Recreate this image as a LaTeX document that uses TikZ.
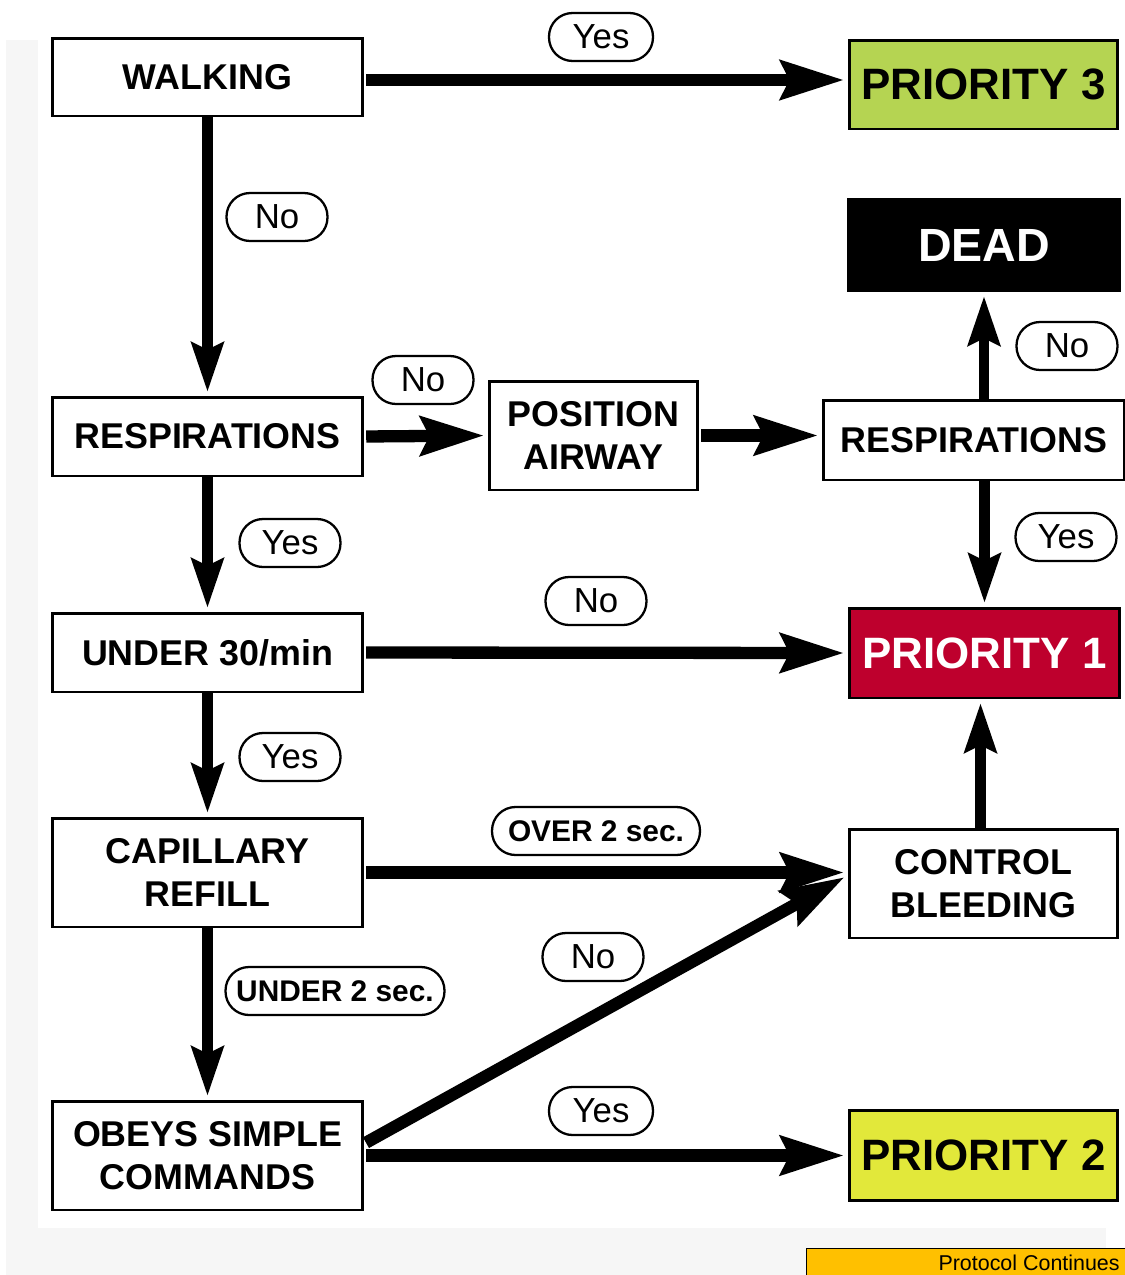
\documentclass[tikz,border=0pt]{standalone}
\usepackage{fontspec}
\setmainfont{Liberation Sans}
\usetikzlibrary{arrows.meta,calc}
\definecolor{pthree}{RGB}{181,212,82}
\definecolor{pone}{RGB}{190,0,45}
\definecolor{ptwo}{RGB}{226,232,58}
\definecolor{protobg}{RGB}{255,192,0}
\definecolor{framebg}{RGB}{246,246,246}
\begin{document}
\begin{tikzpicture}[x=0.02cm,y=-0.02cm,
  box/.style={draw=black,line width=1.7pt,fill=white,inner sep=0pt,align=center,
    font=\bfseries\fontsize{20.4}{24.4}\selectfont},
  prio/.style={box,font=\bfseries\fontsize{25}{30}\selectfont},
  pill/.style={draw=black,line width=1.3pt,fill=white,inner sep=0pt,rounded corners=0.47cm,
    minimum height=0.96cm,minimum width=2.02cm,font=\fontsize{19.8}{22}\selectfont},
  bpill/.style={pill,font=\bfseries\fontsize{17}{20}\selectfont},
  harrow/.style={line width=7pt,-{Stealth[length=36pt,width=22pt,inset=5pt]},shorten >=2pt,shorten <=1pt},
  varrow/.style={line width=5.8pt,-{Stealth[length=28pt,width=18pt,inset=4pt]},shorten >=2pt}
]
\useasboundingbox (0,0) rectangle (1125,1275);
\fill[framebg] (6,40) rectangle (1106,1275);
\fill[white] (38,40) rectangle (1106,1228);

% boxes
\node[box,minimum width=6.22cm,minimum height=1.56cm] (walk) at (207.5,77) {WALKING};
\node[prio,fill=pthree,minimum width=5.38cm,minimum height=1.78cm] (p3) at (983.5,84.5) {PRIORITY 3};
\node[prio,fill=black,text=white,minimum width=5.44cm,minimum height=1.84cm,font=\bfseries\fontsize{26.5}{30}\selectfont] (dead) at (984,245) {DEAD};
\node[box,minimum width=6.22cm,minimum height=1.58cm] (resp1) at (207.5,436.5) {RESPIRATIONS};
\node[box,minimum width=4.18cm,minimum height=2.18cm] (pos) at (593.5,435.5) {POSITION\\AIRWAY};
\node[box,minimum width=6.04cm,minimum height=1.6cm] (resp2) at (974,440) {RESPIRATIONS};
\node[box,minimum width=6.22cm,minimum height=1.58cm] (u30) at (207.5,652.5) {UNDER 30/min};
\node[prio,fill=pone,text=white,minimum width=5.42cm,minimum height=1.8cm] (p1) at (984.5,653) {PRIORITY 1};
\node[box,minimum width=6.22cm,minimum height=2.18cm] (cap) at (207.5,872.5) {CAPILLARY\\REFILL};
\node[box,minimum width=5.38cm,minimum height=2.18cm] (cb) at (983.5,883.5) {CONTROL\\BLEEDING};
\node[box,minimum width=6.22cm,minimum height=2.18cm] (obey) at (207.5,1155.5) {OBEYS SIMPLE\\COMMANDS};
\node[prio,fill=ptwo,minimum width=5.38cm,minimum height=1.8cm] (p2) at (983.5,1155) {PRIORITY 2};
\node[draw=black,line width=0.8pt,fill=protobg,minimum width=6.4cm,minimum height=0.6cm,inner sep=0pt,
  anchor=north west] (proto) at (806,1248) {};
\node[anchor=east,font=\fontsize{12.2}{14}\selectfont,inner sep=0pt] (prototext) at (1120,1263) {Protocol Continues};

% connectors
\draw[harrow] ($(walk.east)+(0,3)$) -- ($(walk.east -| p3.west)+(0,3)$);
\draw[varrow] (walk.south) -- (resp1.north);
\draw[harrow] (resp1.east) -- (pos.west);
\draw[harrow] (pos.east) -- (pos.east -| resp2.west);
\draw[varrow] (dead.south |- resp2.north) -- (dead.south);
\draw[varrow] (p1.north |- resp2.south) -- (p1.north);
\draw[varrow] (resp1.south) -- (u30.north);
\draw[harrow] (u30.east) -- (p1.west);
\draw[varrow] (u30.south) -- (cap.north);
\draw[harrow] (cap.east) -- (cap.east -| cb.west);
\draw[varrow] (cap.south) -- (obey.north);
\draw[harrow] ($(obey.east)+(0,-12)$) -- ($(cb.west)+(0,-8)$);
\draw[harrow] (obey.east) -- (obey.east -| p2.west);
\draw[varrow] ($(cb.north)+(-3,0)$) -- ($(p1.south)+(-4,0)$);

% labels
\node[pill,minimum width=2.08cm] (l1) at (601,37) {Yes};
\node[pill] (l2) at (277,217) {No};
\node[pill] (l3) at (423,380) {No};
\node[pill] (l4) at (290,543) {Yes};
\node[pill] (l5) at (596,601) {No};
\node[pill] (l6) at (290,757) {Yes};
\node[bpill,minimum width=4.16cm] (l7) at (596,831) {OVER 2 sec.};
\node[bpill,minimum width=4.38cm] (l8) at (335,991) {UNDER 2 sec.};
\node[pill] (l9) at (593,957) {No};
\node[pill,minimum width=2.08cm] (l10) at (601,1111) {Yes};
\node[pill] (l11) at (1067,346) {No};
\node[pill] (l12) at (1066,537) {Yes};
\end{tikzpicture}
\end{document}
